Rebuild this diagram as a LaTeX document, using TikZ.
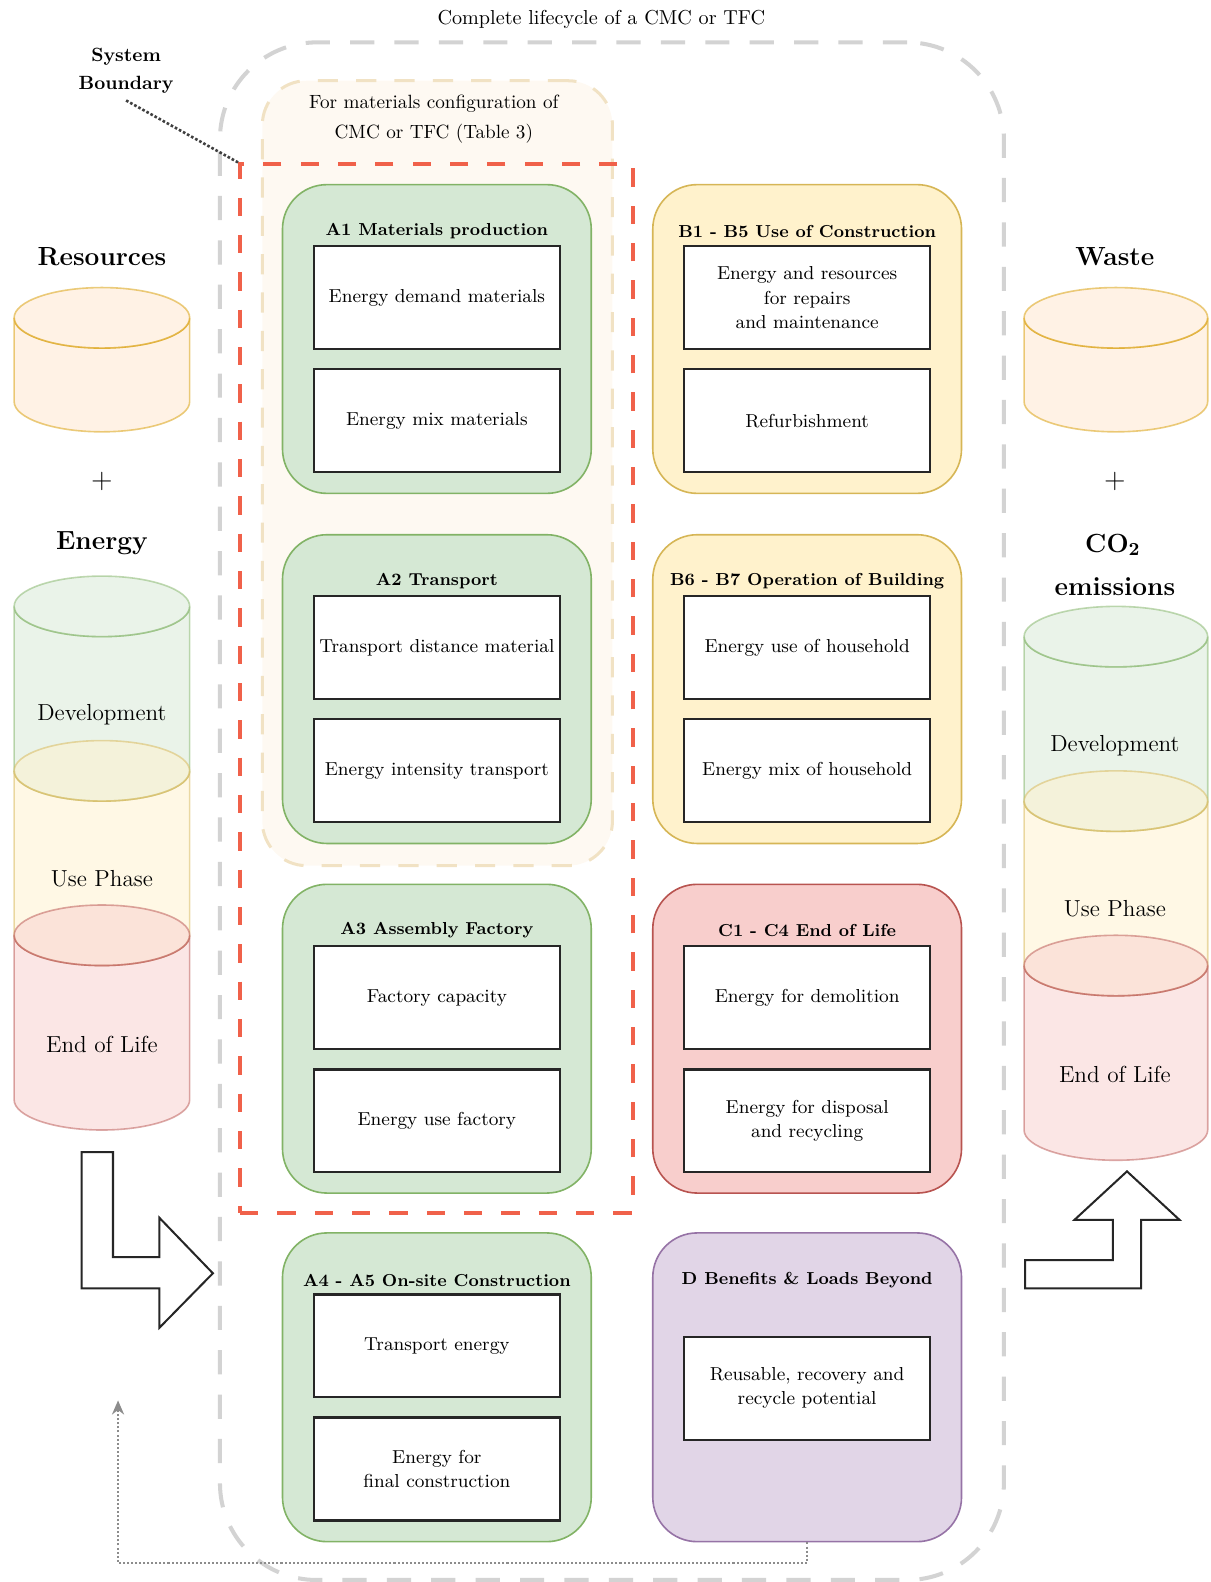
\documentclass[tikz,border=0pt]{standalone}
\usepackage{tikz}
\usetikzlibrary{arrows.meta,positioning,backgrounds}

\definecolor{grfill}{HTML}{D5E8D4}
\definecolor{grdraw}{HTML}{82B366}
\definecolor{yefill}{HTML}{FFF2CC}
\definecolor{yedraw}{HTML}{D6B656}
\definecolor{refill}{HTML}{F8CECC}
\definecolor{redraw}{HTML}{B85450}
\definecolor{pufill}{HTML}{E1D5E7}
\definecolor{pudraw}{HTML}{9673A6}
\definecolor{orfill}{HTML}{FFE6CC}
\definecolor{ordraw}{HTML}{D79B00}
\definecolor{bndred}{HTML}{F0614A}
\definecolor{cfgfill}{HTML}{FEF9F2}
\definecolor{cfgdraw}{HTML}{F1E2C4}
\definecolor{lcgrey}{HTML}{D3D3D3}

\newcommand{\inboxfont}{\fontsize{9.3}{12}\selectfont}
\newcommand{\grpfont}{\fontsize{8.6}{10}\selectfont\bfseries}
\newcommand{\bigfont}{\fontsize{13}{16}\selectfont\bfseries}
\newcommand{\cylfont}{\fontsize{11.5}{14}\selectfont}
% cylinder: style, centre x, top y, bottom y, x radius
\newcommand{\drum}[5]{%
  \filldraw[#1] (#2-#5,#3) -- (#2-#5,#4)
    arc[start angle=180,end angle=0,x radius=#5,y radius=30] -- (#2+#5,#3)
    arc[start angle=0,end angle=180,x radius=#5,y radius=30] -- cycle;
  \filldraw[#1] (#2,#3) ellipse[x radius=#5,y radius=30];}

\begin{document}
\begin{tikzpicture}[x=0.5pt,y=-0.5pt,
  grp/.style={rounded corners=22pt,minimum width=153pt,minimum height=153pt,line width=0.8pt},
  grptitle/.style={font=\grpfont,inner sep=1pt},
  inbox/.style={draw=black!85,fill=white,line width=1.1pt,minimum width=122pt,minimum height=51pt,
    align=center,font=\inboxfont,inner sep=2pt},
  cylpart/.style={fill opacity=0.5,draw opacity=0.5,line width=0.8pt},
  cyltext/.style={font=\cylfont},
  bigtext/.style={font=\bigfont,align=center},
  bigarrow/.style={draw=black!85,fill=white,line width=1pt,line join=miter},
  feedback/.style={densely dotted,line width=1pt,black!45,-{Stealth[length=7pt,width=6pt]}}]
  \useasboundingbox (0,0) rectangle (1200,1568);

% lifecycle frame and system boundary
  \node[draw=lcgrey,line width=2pt,dash pattern=on 12pt off 10pt,rounded corners=48pt,
    minimum width=388.5pt,minimum height=762pt] (lifecycle) at (606.5,804) {};
  \node[font=\fontsize{10}{12}\selectfont] (lctitle) at (596,19) {Complete lifecycle of a CMC or TFC};
  \node[fill=cfgfill,draw=cfgdraw,line width=1.5pt,dash pattern=on 10pt off 9pt,rounded corners=22pt,
    minimum width=173.5pt,minimum height=389pt] (cfg) at (433.5,469) {};
  \node[align=center,font=\fontsize{9.5}{15}\selectfont] (cfgtext) at (430,118)
    {For materials configuration of\\CMC or TFC (Table 3)};
  \node[draw=bndred,line width=2pt,dash pattern=on 9pt off 9.5pt,
    minimum width=194.5pt,minimum height=519.5pt] (sysbox) at (432.5,682.5) {};
  \node[align=center,font=\fontsize{9.5}{14}\selectfont\bfseries] (sysb) at (125,70) {System\\Boundary};
  \draw[densely dotted,line width=1.3pt,black!75] (sysb.south) -- (sysbox.north west);

% stages A
  \node[grp,fill=grfill,draw=grdraw] (a1) at (433,336) {};
  \node[grptitle] (a1t) at (433,229) {A1 Materials production};
  \node[inbox] (a1x) at (433,295) {Energy demand materials};
  \node[inbox] (a1y) at (433,417) {Energy mix materials};

  \node[grp,fill=grfill,draw=grdraw] (a2) at (433,683) {};
  \node[grptitle] (a2t) at (433,576) {A2 Transport};
  \node[inbox] (a2x) at (433,642) {Transport distance material};
  \node[inbox] (a2y) at (433,764) {Energy intensity transport};

  \node[grp,fill=grfill,draw=grdraw] (a3) at (433,1029.5) {};
  \node[grptitle] (a3t) at (433,922) {A3 Assembly Factory};
  \node[inbox] (a3x) at (433,989) {Factory capacity};
  \node[inbox] (a3y) at (433,1111) {Energy use factory};

  \node[grp,fill=grfill,draw=grdraw] (a45) at (433,1375) {};
  \node[grptitle] (a45t) at (433,1269) {A4 - A5 On-site Construction};
  \node[inbox] (a45x) at (433,1334) {Transport energy};
  \node[inbox] (a45y) at (433,1456) {Energy for\\final construction};

% stages B, C, D
  \node[grp,fill=yefill,draw=yedraw] (b15) at (800,336) {};
  \node[grptitle] (b15t) at (800,229) {B1 - B5 Use of Construction};
  \node[inbox] (b15x) at (800,295) {Energy and resources\\for repairs\\and maintenance};
  \node[inbox] (b15y) at (800,417) {Refurbishment};

  \node[grp,fill=yefill,draw=yedraw] (b67) at (800,683) {};
  \node[grptitle] (b67t) at (800,576) {B6 - B7 Operation of Building};
  \node[inbox] (b67x) at (800,642) {Energy use of household};
  \node[inbox] (b67y) at (800,764) {Energy mix of household};

  \node[grp,fill=refill,draw=redraw] (c14) at (800,1029.5) {};
  \node[grptitle] (c14t) at (800,922) {C1 - C4 End of Life};
  \node[inbox] (c14x) at (800,989) {Energy for demolition};
  \node[inbox] (c14y) at (800,1111) {Energy for disposal\\and recycling};

  \node[grp,fill=pufill,draw=pudraw] (d) at (800,1375) {};
  \node[grptitle] (dt) at (800,1269) {D Benefits \& Loads Beyond};
  \node[inbox] (dx) at (800,1376) {Reusable, recovery and\\recycle potential};

% inputs
  \node[bigtext] (res) at (101,254) {Resources};
  \drum{cylpart,fill=orfill,draw=ordraw}{101}{315}{398}{87}
  \node[font=\fontsize{14}{16}\selectfont] (lplus) at (101,477) {+};
  \node[bigtext] (energy) at (101,538) {Energy};
  \drum{cylpart,fill=grfill,draw=grdraw}{101}{601}{764}{87}
  \drum{cylpart,fill=yefill,draw=yedraw}{101}{764}{927}{87}
  \drum{cylpart,fill=refill,draw=redraw}{101}{927}{1090}{87}
  \node[cyltext] (ldev) at (101,708) {Development};
  \node[cyltext] (luse) at (101,871) {Use Phase};
  \node[cyltext] (leol) at (101,1035) {End of Life};

% outputs
  \node[bigtext] (waste) at (1105,254) {Waste};
  \drum{cylpart,fill=orfill,draw=ordraw}{1106}{315}{398}{91}
  \node[font=\fontsize{14}{16}\selectfont] (rplus) at (1105,477) {+};
  \node[bigtext] (co2) at (1103,540) {CO\textsubscript{2}};
  \node[bigtext] (emis) at (1105,581) {emissions};
  \drum{cylpart,fill=grfill,draw=grdraw}{1106}{631}{794}{91}
  \drum{cylpart,fill=yefill,draw=yedraw}{1106}{794}{957}{91}
  \drum{cylpart,fill=refill,draw=redraw}{1106}{957}{1120}{91}
  \node[cyltext] (rdev) at (1105,739) {Development};
  \node[cyltext] (ruse) at (1105,901) {Use Phase};
  \node[cyltext] (reol) at (1105,1065) {End of Life};

% flow arrows
  \draw[bigarrow] (81,1142) -- (112,1142) -- (112,1246) -- (158,1246) -- (158,1207)
    -- (211,1262) -- (158,1316) -- (158,1277) -- (81,1277) -- cycle;
  \draw[bigarrow] (1016,1277) -- (1016,1249) -- (1103,1249) -- (1103,1209) -- (1065,1209)
    -- (1117,1161) -- (1169,1209) -- (1131,1209) -- (1131,1277) -- cycle;
  \coordinate (fbend) at (117,1388);
  \draw[feedback] (d.south) -- ++(0,20) -| (fbend);
\end{tikzpicture}
\end{document}
